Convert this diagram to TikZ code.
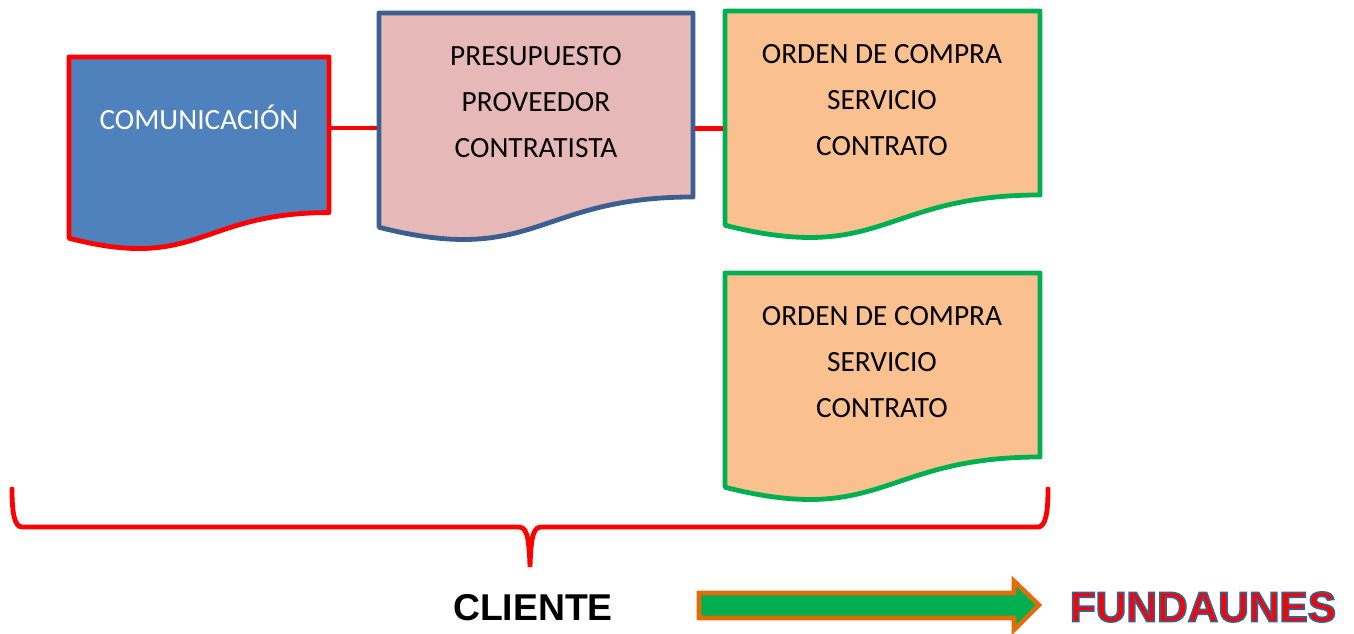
\documentclass[tikz,border=0pt]{standalone}
\usepackage{fontspec}
\setmainfont{Carlito}
\newfontfamily\headfont{Liberation Sans}[BoldFont={Liberation Sans Bold}]
\definecolor{sheetblue}{HTML}{4F81BD}
\definecolor{sheetline}{HTML}{3B5F8E}
\definecolor{sheetpink}{HTML}{E6B8B7}
\definecolor{sheetorange}{HTML}{FAC090}
\definecolor{sheetgreen}{HTML}{00B050}
\definecolor{arroworange}{HTML}{E36C0A}
\tikzstyle{sheetline} = [line width=3.6pt, line join=round]
\tikzstyle{sheetlabel} = [align=center, inner sep=0pt, font=\fontsize{22}{34.5}\selectfont]
\tikzstyle{link} = [draw=red, line width=3.6pt, shorten <=1.5pt, shorten >=1.5pt]
\tikzstyle{headlabel} = [inner sep=0pt, font=\headfont\bfseries\fontsize{28}{30}\selectfont]
% name, left, right, top, height, colours
\newcommand{\docsheet}[6]{
    \draw [sheetline, #6] (#2,#4) -- (#3,#4) -- (#3,{#4+0.802*#5})
        .. controls ({(#2+#3)/2},{#4+0.802*#5}) and ({(#2+#3)/2},{#4+1.1075*#5}) .. (#2,{#4+0.934*#5}) -- cycle;
    \node [inner sep=0pt, minimum width={(#3-#2)*0.75pt}, minimum height={#5*0.75pt}] (#1) at ({(#2+#3)/2},{#4+#5/2}) {};
}
\newcommand{\outlined}[1]{\special{pdf:code q 2 Tr 0.23 0.37 0.56 RG 1.3 w}#1\special{pdf:code Q}}

\begin{document}
\begin{tikzpicture}[x=0.75pt, y=-0.75pt]
    \useasboundingbox (0,0) rectangle (1354,633);
    \docsheet{comunic}{69}{329}{57}{194}{draw=red, fill=sheetblue}
    \docsheet{presup}{379}{693}{13}{229.4}{draw=sheetline, fill=sheetpink}
    \docsheet{orden1}{725}{1040}{11}{229.4}{draw=sheetgreen, fill=sheetorange}
    \docsheet{orden2}{725}{1040}{273}{229.4}{draw=sheetgreen, fill=sheetorange}

    \node [sheetlabel, text=white] (comunictxt) at (199,117) {COMUNICACIÓN};
    \node [sheetlabel] (presuptxt) at (536,102) {PRESUPUESTO\\PROVEEDOR\\CONTRATISTA};
    \node [sheetlabel] (orden1txt) at (882,100) {ORDEN DE COMPRA\\SERVICIO\\CONTRATO};
    \node [sheetlabel] (orden2txt) at (882,362) {ORDEN DE COMPRA\\SERVICIO\\CONTRATO};

    \draw [link] ([yshift=19.5pt]comunic.east) -- ([yshift=19.5pt]comunic.east -| presup.west);
    \draw [link] ([yshift=-.75pt]presup.east) -- ([yshift=-.75pt]presup.east -| orden1.west);

    % llave
    \draw [red, line width=3.6pt, line cap=round] (12,489) .. controls (12,511) and (14,527) .. (22,527) -- (518,527)
        .. controls (526,527) and (529,533) .. (530,567) .. controls (531,533) and (534,527) .. (542,527)
        -- (1038,527) .. controls (1046,527) and (1048,511) .. (1048,489);

    \node [headlabel] (cliente) at (533,608) {CLIENTE};
    % flecha
    \draw [draw=arroworange, fill=sheetgreen, line width=3.4pt] (699,593) -- (1014,593) -- (1014,581) -- (1039,605)
        -- (1014,630) -- (1014,618) -- (699,618) -- cycle;
    \node [headlabel, text=red, font=\headfont\bfseries\fontsize{31.8}{35}\selectfont] (fundaunes) at (1203,607) {\outlined{FUNDAUNES}};
\end{tikzpicture}
\end{document}
